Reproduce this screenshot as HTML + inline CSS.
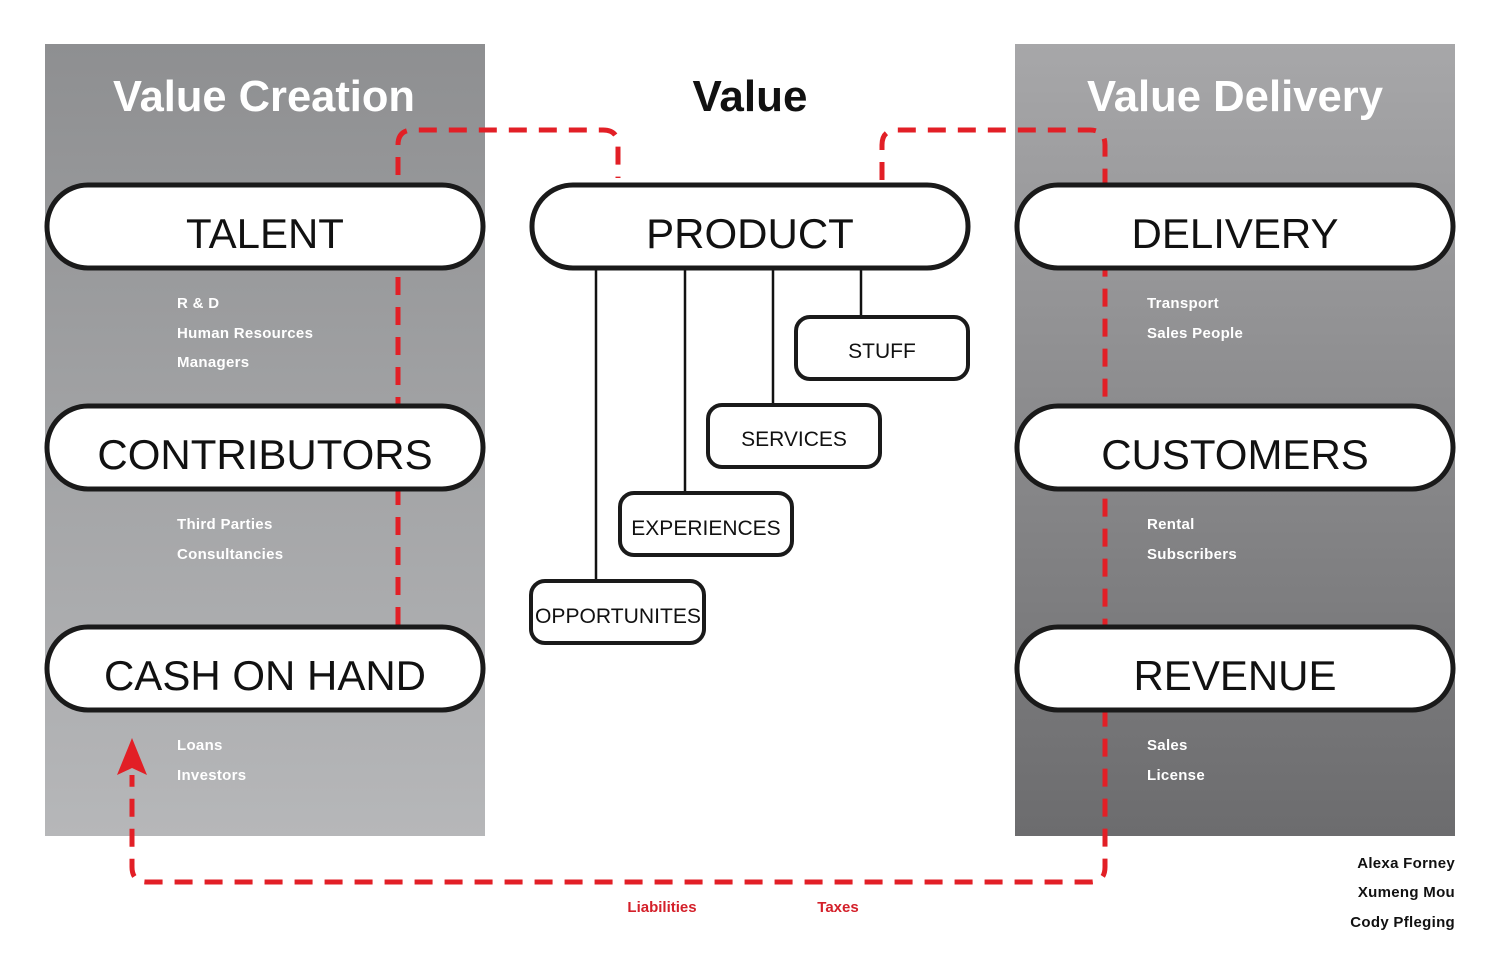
<!DOCTYPE html>
<html><head><style>
body{margin:0;background:#fff;}
svg{display:block;font-family:"Liberation Sans",sans-serif;}
</style></head><body>
<svg width="1500" height="971" viewBox="0 0 1500 971">
<defs>
<linearGradient id="gl" x1="0" y1="0" x2="0" y2="1"><stop offset="0" stop-color="#8e8f91"/><stop offset="1" stop-color="#b6b7b9"/></linearGradient>
<linearGradient id="gr" x1="0" y1="0" x2="0" y2="1"><stop offset="0" stop-color="#a7a7a9"/><stop offset="1" stop-color="#6c6c6e"/></linearGradient>
</defs>
<rect x="45" y="44" width="440" height="792" fill="url(#gl)"/>
<rect x="1015" y="44" width="440" height="792" fill="url(#gr)"/>
<g font-size="44" text-anchor="middle" font-weight="bold">
<text x="264" y="111" fill="#fff" font-weight="600" textLength="302" lengthAdjust="spacingAndGlyphs">Value Creation</text>
<text x="750" y="111" fill="#111">Value</text>
<text x="1235" y="111" fill="#fff" font-weight="600" textLength="296" lengthAdjust="spacingAndGlyphs">Value Delivery</text>
</g>
<g fill="none" stroke="#e21f26" stroke-width="5" stroke-dasharray="18 12">
<path d="M398 625 V145 Q398 130 413 130 H603 Q618 130 618 145 V178"/>
<path d="M882 180 V145 Q882 130 897 130 H1090 Q1105 130 1105 145 V867 Q1105 882 1090 882 H147 Q132 882 132 867 V775"/>
</g>
<path d="M132 738 L147 775 L132 768 L117 775 Z" fill="#e21f26"/>
<g stroke="#111" stroke-width="2.5">
<line x1="596" y1="268" x2="596" y2="581"/><line x1="685" y1="268" x2="685" y2="493"/>
<line x1="773" y1="268" x2="773" y2="405"/><line x1="861" y1="268" x2="861" y2="317"/>
</g>
<g fill="#fff" stroke="#1a1a1a" stroke-width="5">
<rect x="47" y="185" width="436" height="83" rx="41"/>
<rect x="532" y="185" width="436" height="83" rx="41"/>
<rect x="1017" y="185" width="436" height="83" rx="41"/>
<rect x="47" y="406" width="436" height="83" rx="41"/>
<rect x="1017" y="406" width="436" height="83" rx="41"/>
<rect x="47" y="627" width="436" height="83" rx="41"/>
<rect x="1017" y="627" width="436" height="83" rx="41"/>
<g stroke-width="4">
<rect x="796" y="317" width="172" height="62" rx="14"/>
<rect x="708" y="405" width="172" height="62" rx="14"/>
<rect x="620" y="493" width="172" height="62" rx="14"/>
<rect x="531" y="581" width="173" height="62" rx="14"/>
</g></g>
<g font-size="42" text-anchor="middle" fill="#111">
<text x="265" y="248">TALENT</text><text x="750" y="248">PRODUCT</text><text x="1235" y="248">DELIVERY</text>
<text x="265" y="469">CONTRIBUTORS</text><text x="1235" y="469">CUSTOMERS</text>
<text x="265" y="690">CASH ON HAND</text><text x="1235" y="690">REVENUE</text>
</g>
<g font-size="21" text-anchor="middle" fill="#111">
<text x="882" y="358">STUFF</text><text x="794" y="446">SERVICES</text>
<text x="706" y="535">EXPERIENCES</text><text x="618" y="623" textLength="166" lengthAdjust="spacingAndGlyphs">OPPORTUNITES</text>
</g>
<g font-size="15" fill="#fff" font-weight="bold" letter-spacing="0.3">
<text x="177" y="308">R &amp; D</text><text x="177" y="338">Human Resources</text><text x="177" y="367">Managers</text>
<text x="177" y="529">Third Parties</text><text x="177" y="559">Consultancies</text>
<text x="177" y="750">Loans</text><text x="177" y="780">Investors</text>
<text x="1147" y="308">Transport</text><text x="1147" y="338">Sales People</text>
<text x="1147" y="529">Rental</text><text x="1147" y="559">Subscribers</text>
<text x="1147" y="750">Sales</text><text x="1147" y="780">License</text>
</g>
<g font-size="15" fill="#d4202a" font-weight="bold" text-anchor="middle">
<text x="662" y="912">Liabilities</text><text x="838" y="912">Taxes</text>
</g>
<g font-size="15" fill="#111" font-weight="bold" text-anchor="end" letter-spacing="0.3">
<text x="1455" y="868">Alexa Forney</text><text x="1455" y="897">Xumeng Mou</text><text x="1455" y="927">Cody Pfleging</text>
</g>
</svg>
</body></html>
